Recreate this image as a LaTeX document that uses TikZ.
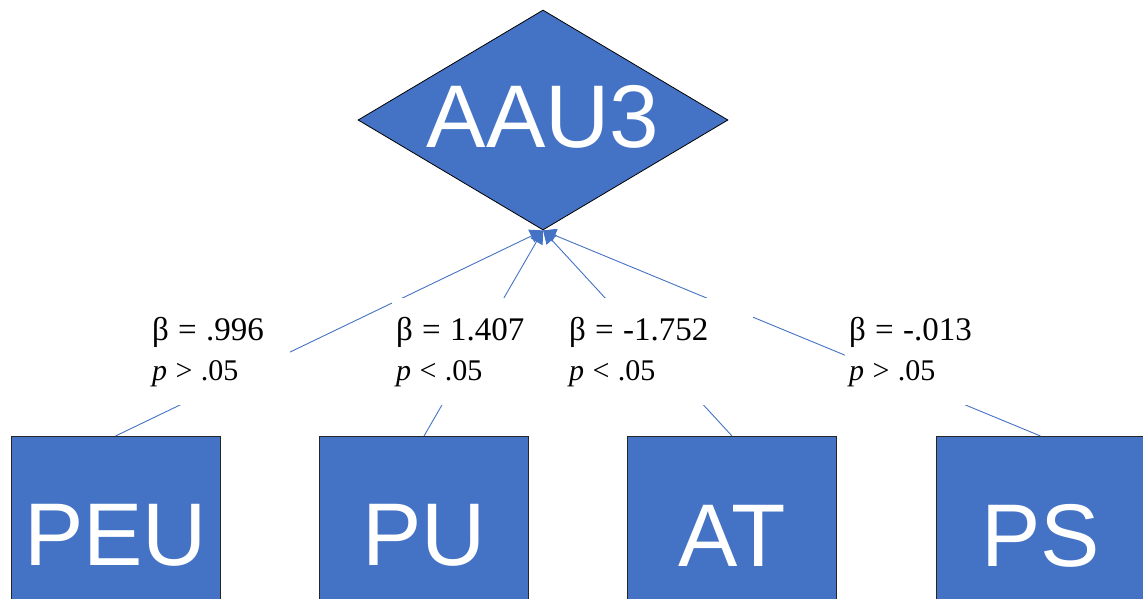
\documentclass[tikz,border=0pt]{standalone}
\usepackage{fontspec}
\setmainfont{Liberation Serif}
\newfontfamily\boxfont{Liberation Sans}
\usetikzlibrary{shapes.geometric,arrows.meta}
\definecolor{obl}{HTML}{4472C4}
\newcommand\mylab[2]{\noindent\vbox{\baselineskip=40pt
  \hbox{\fontsize{33}{40}\selectfont\spaceskip=0.28em #1}
  \hbox{\fontsize{30}{40}\selectfont\spaceskip=0.28em #2}}}
\begin{document}
\begin{tikzpicture}[x=1pt,y=-1pt,
  blk/.style={draw=black!85, line width=0.8pt, fill=obl, text=white,
    font=\boxfont\fontsize{89}{100}\selectfont, minimum width=209pt,
    minimum height=198pt, inner sep=0pt, anchor=north},
  lnk/.style={draw=obl, line width=0.9pt, -{Triangle[length=13pt,width=14pt]}},
  lab/.style={fill=white, inner xsep=4pt, inner ysep=0pt, minimum height=107pt,
    anchor=north west, align=left}
]
\clip (0,0) rectangle (1143,598);
\node[diamond, draw=black, line width=0.8pt, fill=obl, text=white,
  minimum width=370pt, minimum height=220pt, inner sep=0pt,
  font=\boxfont\fontsize{89}{100}\selectfont] (aau) at (543,120)
  {\smash{\makebox[0pt]{\raisebox{-27pt}{AAU3}}}};
\node[blk] (peu) at (115.5,436) {PEU};
\node[blk] (pu) at (424,436) {PU};
\node[blk] (att) at (732,436) {AT};
\node[blk] (ps) at (1040.5,436) {PS};
\draw[lnk] (peu.north) -- (aau.south);
\draw[lnk] (pu.north) -- (aau.south);
\draw[lnk] (att.north) -- (aau.south);
\draw[lnk] (ps.north) -- (aau.south);
\node[lab, text width=134pt] (lpeu) at (148,298) {\mylab{β = .996}{\textit{p} > .05}};
\node[lab, text width=145pt] (lpu) at (392,298) {\mylab{β = 1.407}{\textit{p} < .05}};
\node[lab, text width=180pt] (lat) at (565,298) {\mylab{β = -1.752}{\textit{p} < .05}};
\node[lab, text width=147pt] (lps) at (845,298) {\mylab{β = -.013}{\textit{p} > .05}};
\end{tikzpicture}
\end{document}
